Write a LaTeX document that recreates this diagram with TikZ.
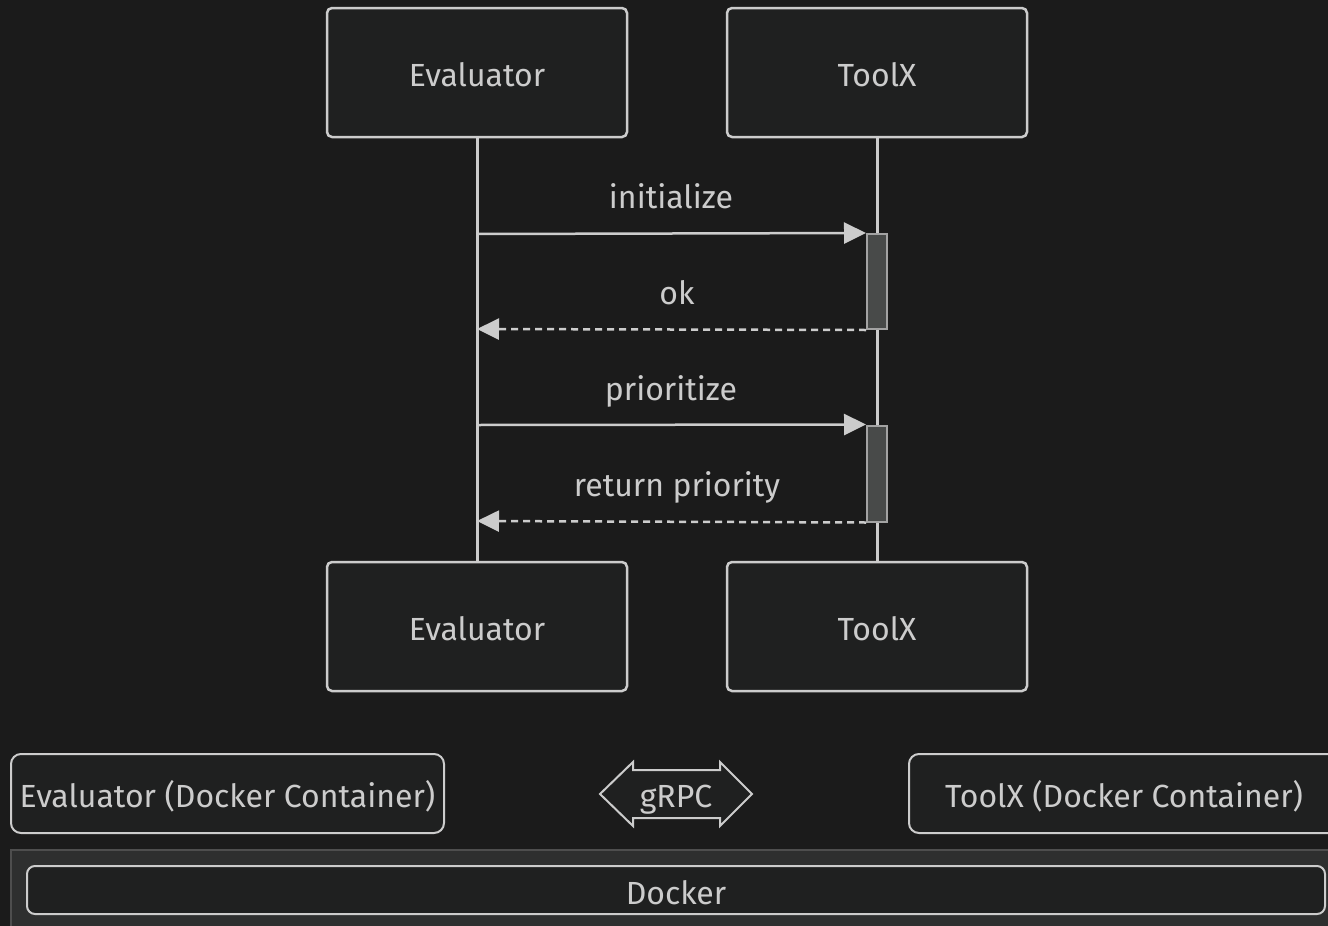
\documentclass[tikz,border=0pt]{standalone}
\usepackage{fontspec}
\setmainfont{Fira Sans}
\usetikzlibrary{arrows.meta}
\definecolor{bg}{HTML}{1B1B1B}
\definecolor{boxfill}{HTML}{1F2020}
\definecolor{fg}{HTML}{CCCCCC}
\definecolor{actfill}{HTML}{484A49}
\definecolor{dockfill}{HTML}{2E2F2F}
\definecolor{dockline}{HTML}{4E4E4E}
\begin{document}
\begin{tikzpicture}[x=1pt,y=-1pt,
  every node/.style={font=\fontsize{32}{36}\selectfont, text=fg, text height=28pt, text depth=0pt},
  actor/.style={draw=fg, fill=boxfill, line width=2.5pt, rounded corners=5pt, minimum width=300pt, minimum height=129pt, inner sep=0pt},
  cont/.style={draw=fg, fill=boxfill, line width=2pt, rounded corners=10pt, minimum height=79pt, inner sep=0pt},
  life/.style={draw=fg, line width=3pt},
  act/.style={draw=fg!80!black, fill=actfill, line width=2pt},
  msg/.style={draw=fg, line width=2.5pt, -{Triangle[length=22pt,width=21pt]}},
  reply/.style={msg, dash pattern=on 7pt off 5pt},
  lbl/.style={inner sep=0pt}
]
\useasboundingbox (0,0) rectangle (1328,926);
\fill[bg] (0,0) rectangle (1328,926);

% actors
\node[actor] (evT) at (477,72.5) {Evaluator};
\node[actor] (toT) at (877,72.5) {ToolX};
\node[actor] (evB) at (477,626.5) {Evaluator};
\node[actor] (toB) at (877,626.5) {ToolX};

% lifelines
\draw[life] (evT.south) -- (evB.north);
\draw[life] (toT.south) -- (toB.north);

% activation bars
\node[act, minimum width=20pt, minimum height=95pt, inner sep=0pt, text height=0pt] (a1) at (877,281.5) {};
\node[act, minimum width=20pt, minimum height=96pt, inner sep=0pt, text height=0pt] (a2) at (877,473.5) {};

% messages
\coordinate (e1) at (477,234);
\coordinate (e2) at (477,329);
\coordinate (e3) at (477,425);
\coordinate (e4) at (477,521);
\draw[msg] (e1) -- (a1.north west);
\node[lbl] (l1) at (671,194) {initialize};
\draw[reply] (a1.south west) -- (e2);
\node[lbl] (l2) at (677,290) {ok};
\draw[msg] (e3) -- (a2.north west);
\node[lbl] (l3) at (671,386) {prioritize};
\draw[reply] (a2.south west) -- (e4);
\node[lbl] (l4) at (677,482) {return priority};

% containers
\node[cont, minimum width=433pt] (evc) at (227.5,793.5) {Evaluator (Docker Container)};
\node[cont, minimum width=430pt] (toc) at (1124,793.5) {ToolX (Docker Container)};

% gRPC double arrow
\draw[fg, fill=boxfill, line width=2pt] (600,794) -- (633,762) -- (633,770) -- (720,770) -- (720,762) -- (752,794) -- (720,826) -- (720,818) -- (633,818) -- (633,826) -- cycle;
\node[lbl] (grpc) at (676,793) {gRPC};

% docker
\draw[dockline, fill=dockfill, line width=1.5pt] (11,850) rectangle (1340,940);
\node[cont, minimum width=1298pt, minimum height=48pt, rounded corners=8pt] (dock) at (676,890) {Docker};
\end{tikzpicture}
\end{document}
